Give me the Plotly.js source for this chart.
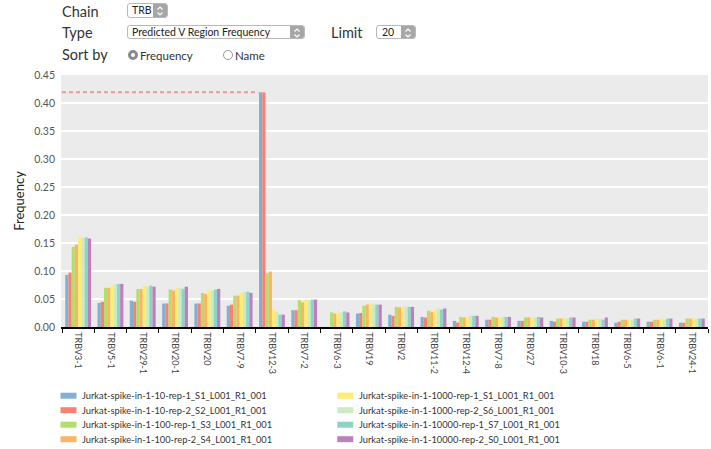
<!DOCTYPE html>
<html><head><meta charset="utf-8">
<script src="https://cdn.plot.ly/plotly-3.0.1.min.js"></script>
<style>
body{margin:0;padding:0;background:#fff;font-family:Lato,"Open Sans",sans-serif;}
#wrap{position:relative;width:711px;height:449px;overflow:hidden;}
#chart{position:absolute;left:0;top:0;width:711px;height:449px;}
.lbl{position:absolute;font-size:14.5px;color:#333;line-height:16px;white-space:nowrap;}
.sel{position:absolute;border:1px solid #b8b8b8;border-radius:3px;background:#fff;font-size:10.5px;color:#222;line-height:13px;box-sizing:border-box;padding-left:4px;overflow:hidden;white-space:nowrap;}
.sel .btn{position:absolute;right:0;top:0;bottom:0;width:14px;background:#a6a6a6;}
.sel .btn svg{position:absolute;left:3px;top:1px;}
.radio{position:absolute;width:10px;height:10px;border-radius:50%;box-sizing:border-box;}
.rtxt{position:absolute;font-size:11.5px;color:#333;line-height:13px;white-space:nowrap;}
</style>
</head>
<body>
<div id="wrap">
<div id="chart"></div>
<div class="lbl" style="left:62px;top:4px;">Chain</div>
<div class="sel" style="left:127px;top:3px;width:41px;height:15px;">TRB<div class="btn"><svg width="8" height="12" viewBox="0 0 8 12"><path d="M1.5 4.5 L4 2 L6.5 4.5 M1.5 7.5 L4 10 L6.5 7.5" fill="none" stroke="#fff" stroke-width="1.2"/></svg></div></div>
<div class="lbl" style="left:62px;top:25px;">Type</div>
<div class="sel" style="left:127px;top:25px;width:178px;height:14px;line-height:12px;">Predicted V Region Frequency<div class="btn"><svg width="8" height="12" viewBox="0 0 8 12"><path d="M1.5 4.5 L4 2 L6.5 4.5 M1.5 7.5 L4 10 L6.5 7.5" fill="none" stroke="#fff" stroke-width="1.2"/></svg></div></div>
<div class="lbl" style="left:331px;top:25px;">Limit</div>
<div class="sel" style="left:376px;top:25px;width:40px;height:14px;line-height:12px;padding-left:5px;">20<div class="btn"><svg width="8" height="12" viewBox="0 0 8 12"><path d="M1.5 4.5 L4 2 L6.5 4.5 M1.5 7.5 L4 10 L6.5 7.5" fill="none" stroke="#fff" stroke-width="1.2"/></svg></div></div>
<div class="lbl" style="left:62px;top:47px;">Sort by</div>
<div class="radio" style="left:128px;top:50px;border:3px solid #8a8a8a;background:#fff;"></div>
<div class="rtxt" style="left:140px;top:49px;">Frequency</div>
<div class="radio" style="left:223px;top:50px;border:1px solid #9a9a9a;background:#fff;"></div>
<div class="rtxt" style="left:235px;top:49px;">Name</div>
</div>
<script>
// ---------- data ----------
const categories = ['TRBV3-1','TRBV5-1','TRBV29-1','TRBV20-1','TRBV20','TRBV7-9','TRBV12-3','TRBV7-2','TRBV6-3','TRBV19','TRBV2','TRBV11-2','TRBV12-4','TRBV7-8','TRBV27','TRBV10-3','TRBV18','TRBV6-5','TRBV6-1','TRBV24-1'];

const sampleNames = [
  'Jurkat-spike-in-1-10-rep-1_S1_L001_R1_001',
  'Jurkat-spike-in-1-10-rep-2_S2_L001_R1_001',
  'Jurkat-spike-in-1-100-rep-1_S3_L001_R1_001',
  'Jurkat-spike-in-1-100-rep-2_S4_L001_R1_001',
  'Jurkat-spike-in-1-1000-rep-1_S1_L001_R1_001',
  'Jurkat-spike-in-1-1000-rep-2_S6_L001_R1_001',
  'Jurkat-spike-in-1-10000-rep-1_S7_L001_R1_001',
  'Jurkat-spike-in-1-10000-rep-2_S0_L001_R1_001'
];

const s10rep1    = [0.093,0.043,0.047,0.042,0.042,0.038,0.419,0.030,null,0.024,0.022,0.018,0.011,0.013,0.011,0.011,0.0095,0.0077,0.0095,0.0077];
const s10rep2    = [0.097,0.045,0.045,0.042,0.042,0.040,0.419,0.030,null,0.025,0.020,0.017,0.008,0.013,0.011,0.0095,0.0095,0.0095,0.0095,0.0077];
const s100rep1   = [0.143,0.070,0.068,0.067,0.061,0.056,0.096,0.048,0.026,0.038,0.036,0.029,0.018,0.018,0.017,0.015,0.013,0.013,0.013,0.015];
const s100rep2   = [0.147,0.070,0.068,0.065,0.059,0.056,0.099,0.044,0.024,0.040,0.035,0.027,0.017,0.017,0.017,0.015,0.013,0.013,0.013,0.015];
const s1000rep1  = [0.161,0.074,0.074,0.070,0.067,0.061,0.030,0.049,0.026,0.042,0.036,0.031,0.018,0.018,0.017,0.017,0.015,0.013,0.015,0.015];
const s1000rep2  = [0.158,0.076,0.072,0.070,0.065,0.063,0.028,0.048,0.026,0.040,0.036,0.033,0.020,0.018,0.017,0.015,0.015,0.013,0.013,0.015];
const s10000rep1 = [0.160,0.077,0.074,0.068,0.067,0.063,0.022,0.049,0.028,0.040,0.036,0.031,0.020,0.018,0.018,0.017,0.013,0.015,0.015,0.015];
const s10000rep2 = [0.158,0.077,0.072,0.072,0.068,0.061,0.022,0.049,0.026,0.040,0.036,0.033,0.020,0.018,0.017,0.017,0.017,0.015,0.015,0.015];

const seriesValues = [s10rep1, s10rep2, s100rep1, s100rep2, s1000rep1, s1000rep2, s10000rep1, s10000rep2];
const colors = ['#80b1d3','#fb8072','#b3de69','#fdb462','#ffed6f','#ccebc5','#8dd3c7','#bc80bd'];

// ---------- layout constants ----------
const W = 711, H = 449;
const M = {l: 60.5, r: 3, t: 75.3, b: 121.7};
const FONT = 'Lato, "Open Sans", sans-serif';
const pw = W - M.l - M.r, ph = H - M.t - M.b;
const px2x = p => (p - M.l) / pw;
const py2y = p => (H - M.b - p) / ph;

const traces = seriesValues.map((vals, i) => ({
  type: 'bar',
  name: sampleNames[i],
  x: categories,
  y: vals,
  marker: {color: colors[i], line: {width: 0}},
  showlegend: false
}));

// max value reference line
let maxVal = -Infinity, maxIdx = 0;
seriesValues.forEach(vals => vals.forEach((v, j) => { if (v != null && v > maxVal) { maxVal = v; maxIdx = j; } }));

const shapes = [{
  type: 'line', xref: 'x', yref: 'y',
  x0: -0.5, x1: maxIdx - 0.42, y0: maxVal, y1: maxVal,
  line: {color: '#e39aa3', width: 2, dash: '4px,3px'}
}];
const annotations = [];

// custom two-column legend
const colX = [60, 337];
const rowY = [396, 410.5, 425, 439.5];
sampleNames.forEach((nm, i) => {
  const c = Math.floor(i / 4), r = i % 4;
  const sx = colX[c], sy = rowY[r];
  shapes.push({
    type: 'rect', xref: 'paper', yref: 'paper',
    x0: px2x(sx), x1: px2x(sx + 16), y0: py2y(sy - 3), y1: py2y(sy + 3),
    fillcolor: colors[i], line: {width: 0}
  });
  annotations.push({
    xref: 'paper', yref: 'paper', x: px2x(sx + 20), y: py2y(sy),
    xanchor: 'left', yanchor: 'middle', showarrow: false,
    text: nm, font: {family: FONT, size: 9.3, color: '#333'}
  });
});

const layout = {
  width: W, height: H,
  margin: M,
  paper_bgcolor: '#ffffff',
  plot_bgcolor: '#ebebeb',
  font: {family: FONT, color: '#444'},
  barmode: 'group',
  bargap: 0.2,
  bargroupgap: 0,
  showlegend: false,
  xaxis: {
    type: 'category',
    tickangle: 90,
    tickson: 'boundaries',
    ticks: 'outside', ticklen: 4, tickwidth: 1, tickcolor: '#000',
    showline: true, linecolor: '#000', linewidth: 1.5,
    showgrid: false, zeroline: false,
    tickfont: {family: FONT, size: 9, color: '#444'},
    ticklabelstandoff: 2,
    automargin: false
  },
  yaxis: {
    range: [0, 0.45], dtick: 0.05, tickformat: '.2f',
    gridcolor: '#ffffff', gridwidth: 1.5,
    zeroline: false, showline: false, ticks: '',
    tickfont: {family: FONT, size: 10.5, color: '#555'},
    ticklabelstandoff: 5,
    title: {text: 'Frequency', font: {family: FONT, size: 13, color: '#222'}, standoff: 6},
    automargin: false
  },
  shapes: shapes,
  annotations: annotations
};

Plotly.newPlot('chart', traces, layout, {staticPlot: true, displayModeBar: false});
</script>
</body></html>
